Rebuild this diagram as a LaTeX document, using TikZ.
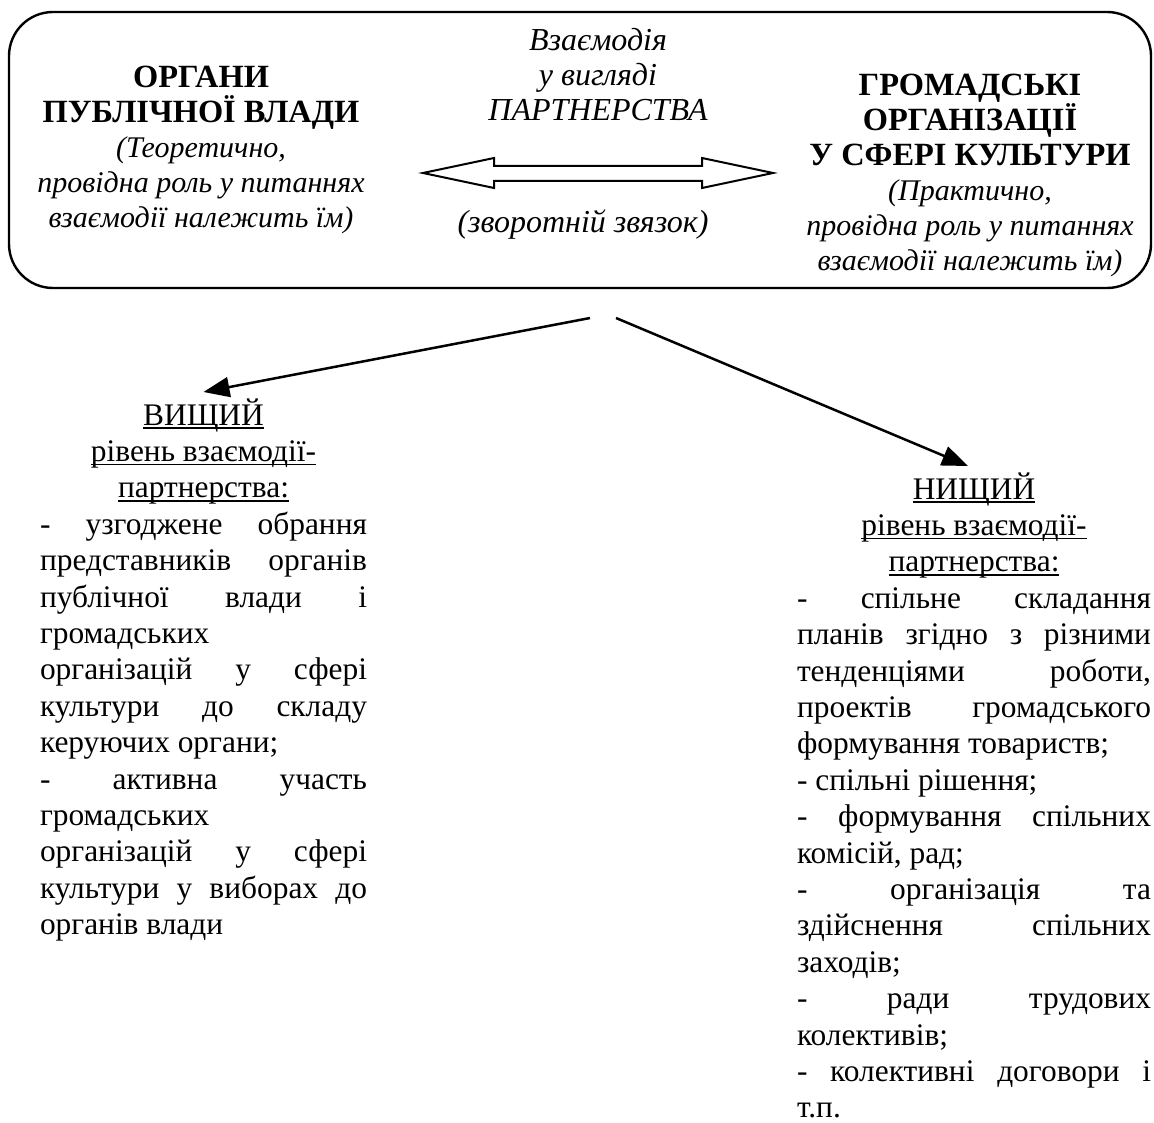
\documentclass[tikz,border=0pt]{standalone}
\usepackage{fontspec}
\setmainfont{Liberation Serif}
\usetikzlibrary{arrows.meta}
\newcommand\undl[1]{\leavevmode\setbox0\hbox{#1}\rlap{\vrule width\wd0 height -1.2pt depth 2pt}\box0}
\newcommand\bighead[1]{{\fontsize{16.2}{17.4}\selectfont\bfseries #1}}

\tikzset{
  head/.style={font=\fontsize{15}{17.5}\selectfont, align=center, inner sep=0pt},
  column/.style={font=\fontsize{15.7}{18.2}\selectfont, text width=#1, align=justify, inner sep=3pt},
  level/.style={line width=1.25pt, -{Triangle[length=13pt,width=10pt]}}
}

\begin{document}
\begin{tikzpicture}[x=0.5pt,y=-0.5pt]
			%%%%% FRAME %%%%%
			\useasboundingbox (0,0) rectangle (1154,1122);
			\draw[line width=1.2pt, rounded corners=22pt] (9,12) rectangle (1151,288);
			
			\node[head, anchor=north] (power) at (201,66)
				{\bighead{ОРГАНИ}\\\bighead{ПУБЛІЧНОЇ ВЛАДИ}\\\textit{(Теоретично,}\\
				 \textit{провідна роль у питаннях}\\\textit{взаємодії належить їм)}};
			\node[head, anchor=north] (society) at (970,74)
				{\bighead{ГРОМАДСЬКІ}\\\bighead{ОРГАНІЗАЦІЇ}\\\bighead{У СФЕРІ КУЛЬТУРИ}\\
				 \textit{(Практично,}\\\textit{провідна роль у питаннях}\\\textit{взаємодії належить їм)}};
			\node[head, font=\fontsize{16}{17.6}\itshape, anchor=north] (mid) at (598,28)
				{Взаємодія\\у вигляді\\ПАРТНЕРСТВА};
			\node[head, font=\fontsize{16}{17.6}\itshape, anchor=base] (back) at (583,233) {(зворотній звязок)};
			
			%%%%% DOUBLE ARROW %%%%%
			\draw[line width=1pt, line join=miter] (423,173) -- (494,158) -- (494,166) -- (702,166) -- (702,158)
				-- (773,173) -- (702,188) -- (702,181) -- (494,181) -- (494,188) -- cycle;
			
			%%%%% LEVELS %%%%%
			\node[column=163.5pt, anchor=north] (high) at (203.5,392)
				{{\centering\undl{ВИЩИЙ}\\\undl{рівень взаємодії-}\\\undl{партнерства:}\par}
				- узгоджене обрання\linebreak
				представників органів\linebreak
				публічної влади і\linebreak
				громадських\linebreak
				організацій у сфері\linebreak
				культури до складу\linebreak
				керуючих органи;\newline
				- активна участь\linebreak
				громадських\linebreak
				організацій у сфері\linebreak
				культури у виборах до\linebreak
				органів влади};
			\node[column=177pt, anchor=north] (low) at (974,466)
				{{\centering\undl{НИЩИЙ}\\\undl{рівень взаємодії-}\\\undl{партнерства:}\par}
				- спільне складання\linebreak
				планів згідно з різними\linebreak
				тенденціями роботи,\linebreak
				проектів громадського\linebreak
				формування товариств;\newline
				- спільні рішення;\newline
				- формування спільних\linebreak
				комісій, рад;\newline
				- організація та\linebreak
				здійснення спільних\linebreak
				заходів;\newline
				- ради трудових\linebreak
				колективів;\newline
				- колективні договори і\linebreak
				т.п.};
			
			\coordinate (s1) at (590,318);
			\coordinate (s2) at (616,318);
			\draw[level] (s1) -- (high.north);
			\draw[level] (s2) -- ([xshift=-3pt]low.north);
			%%%%% END %%%%%
\end{tikzpicture}
\end{document}
